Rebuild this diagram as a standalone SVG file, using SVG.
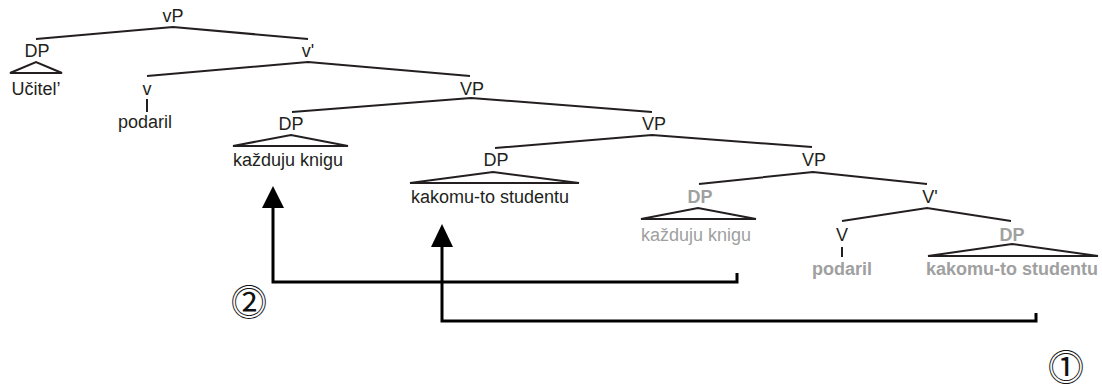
<svg xmlns="http://www.w3.org/2000/svg" width="1102" height="391" viewBox="0 0 1102 391">
<style>
text{font-family:"Liberation Sans",Arial,sans-serif;font-size:18px;fill:#231f20;text-anchor:middle}
.g{fill:#a0a0a0}
.b{font-weight:bold}
.tree{stroke:#231f20;stroke-width:2;fill:none}
.arr{stroke:#000;stroke-width:3;fill:none}
.num{font-family:"DejaVu Sans","Noto Sans CJK JP",serif;font-size:36px;fill:#111}
</style>
<g id="edges" class="tree">
<polyline points="36,39 173,27 308,39"/>
<polygon points="10,73 36,62 62,73"/>
<polyline points="147,76 308,62 470,76"/>
<line x1="147" y1="99" x2="147" y2="112"/>
<polyline points="292,112 471,98 652,112"/>
<polygon points="233,146 291,135 348,146"/>
<polyline points="495,148 652,135 812,147"/>
<polygon points="410,183 493,172 579,183"/>
<polyline points="699,184 813,172 927,184"/>
<polygon points="641,219 698,208 756,219"/>
<polyline points="842,221 927,208 1011,221"/>
<line x1="842" y1="247" x2="842" y2="257"/>
<polygon points="928,256 1012,244 1098,256"/>
</g>
<g id="n-vP"><text x="173" y="22">vP</text></g>
<g id="n-DP1"><text x="37" y="57">DP</text><text x="36" y="95">Učitel’</text></g>
<g id="n-v1"><text x="308" y="57">v'</text></g>
<g id="n-v"><text x="147" y="95">v</text><text x="145" y="128">podaril</text></g>
<g id="n-VP1"><text x="472" y="95">VP</text></g>
<g id="n-DP2"><text x="291" y="130">DP</text><text x="288" y="166">každuju knigu</text></g>
<g id="n-VP2"><text x="654" y="130">VP</text></g>
<g id="n-DP3"><text x="496" y="166">DP</text><text x="490" y="203">kakomu-to studentu</text></g>
<g id="n-VP3"><text x="814" y="166">VP</text></g>
<g id="n-DP4"><text class="g b" x="700" y="203">DP</text><text class="g" x="696" y="241">každuju knigu</text></g>
<g id="n-V1"><text x="930" y="203">V'</text></g>
<g id="n-V"><text x="842" y="241">V</text><text class="g b" x="842" y="275">podaril</text></g>
<g id="n-DP5"><text class="g b" x="1012" y="241">DP</text><text class="g b" x="1012" y="275">kakomu-to studentu</text></g>
<g id="connectors">
<polyline class="arr" points="737,273 737,282 273,282 273,207"/>
<path d="M273,186 L284,208 L262,208 Z" fill="#000"/>
<polyline class="arr" points="1036,313 1036,321 442,321 442,246"/>
<path d="M442,224 L453,247 L431,247 Z" fill="#000"/>
</g>
<g id="labels">
<text class="num" x="249" y="316">⓶</text>
<text class="num" x="1066" y="381">⓵</text>
</g>
</svg>
